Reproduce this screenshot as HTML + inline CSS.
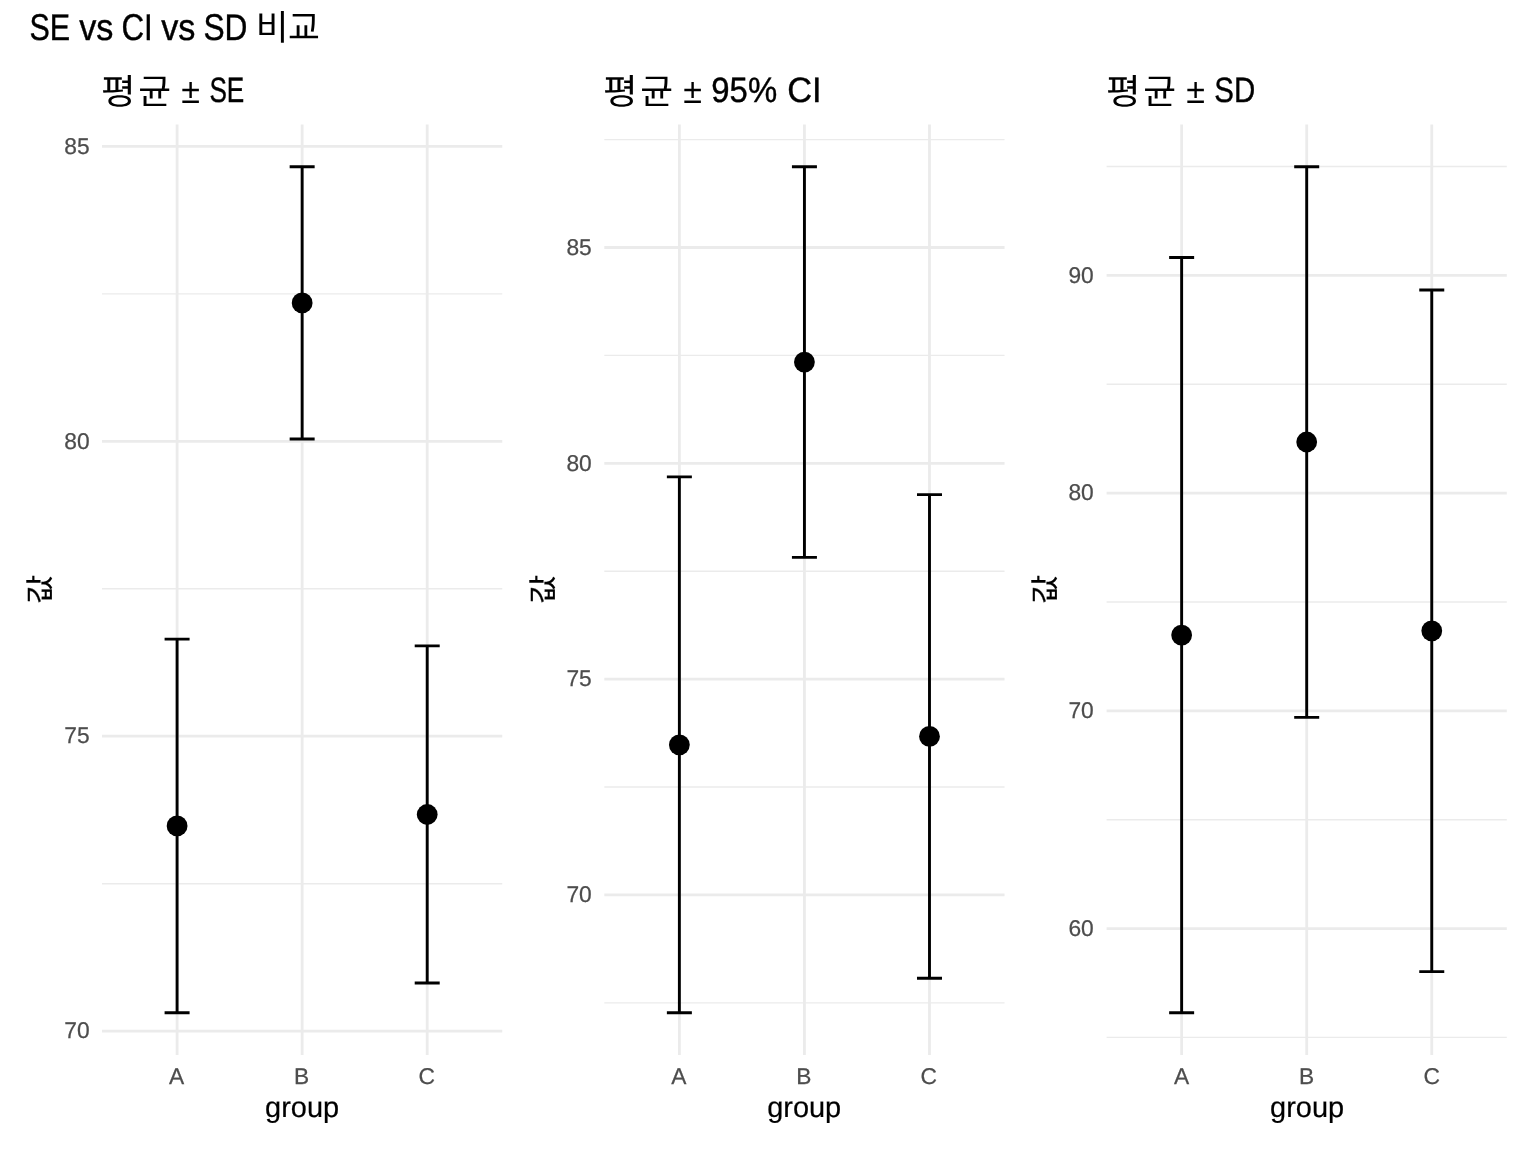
<!DOCTYPE html>
<html lang="ko">
<head>
<meta charset="utf-8">
<title>SE vs CI vs SD 비교</title>
<style>
html,body{margin:0;padding:0;background:#fff;}
body{width:1536px;height:1152px;overflow:hidden;}
svg{display:block;}
text{font-family:"Liberation Sans", "Noto Sans CJK KR", sans-serif;text-rendering:geometricPrecision;}
.t{font-size:35.2px;fill:#000;}
.l{font-size:37.2px;stroke:#000;stroke-width:0.4px;}
.m{font-size:35.2px;stroke:#000;stroke-width:0.4px;}
.ax{font-size:22.75px;fill:#4D4D4D;stroke:#4D4D4D;stroke-width:0.25px;}
.al{font-size:28.95px;fill:#000;stroke:#000;stroke-width:0.2px;}
.g line{stroke:#EBEBEB;}
.e{stroke:#000;stroke-width:2.9;fill:none;}
</style>
</head>
<body>
<svg width="1536" height="1152" viewBox="0 0 1536 1152">
<rect x="0" y="0" width="1536" height="1152" fill="#fff"/>
<text class="t" y="39.75"><tspan class="l" x="29.50" textLength="40.63" lengthAdjust="spacingAndGlyphs">SE</tspan> <tspan class="l" x="79.18" textLength="34.20" lengthAdjust="spacingAndGlyphs">vs</tspan> <tspan class="l" x="121.48" textLength="31.31" lengthAdjust="spacingAndGlyphs">CI</tspan> <tspan class="l" x="161.13" textLength="34.25" lengthAdjust="spacingAndGlyphs">vs</tspan> <tspan class="l" x="203.39" textLength="44.04" lengthAdjust="spacingAndGlyphs">SD</tspan> <tspan x="255.81" textLength="32.74" lengthAdjust="spacingAndGlyphs">비</tspan><tspan x="288.06" textLength="31.90" lengthAdjust="spacingAndGlyphs">교</tspan></text>
<g>
<text class="t"><tspan x="101.02" y="103.6" textLength="34.61" lengthAdjust="spacingAndGlyphs">평</tspan><tspan x="138.21" y="103.6" textLength="32.79" lengthAdjust="spacingAndGlyphs">균</tspan> <tspan x="181.21" y="102.9" textLength="18.70" lengthAdjust="spacingAndGlyphs">±</tspan> <tspan class="m" x="209.42" y="102.2" textLength="34.90" lengthAdjust="spacingAndGlyphs">SE</tspan></text>
<g class="g">
<line x1="102.05" x2="502.25" y1="293.84" y2="293.84" stroke-width="1.4"/>
<line x1="102.05" x2="502.25" y1="588.76" y2="588.76" stroke-width="1.4"/>
<line x1="102.05" x2="502.25" y1="883.68" y2="883.68" stroke-width="1.4"/>
<line x1="102.05" x2="502.25" y1="146.39" y2="146.39" stroke-width="2.8"/>
<line x1="102.05" x2="502.25" y1="441.30" y2="441.30" stroke-width="2.8"/>
<line x1="102.05" x2="502.25" y1="736.22" y2="736.22" stroke-width="2.8"/>
<line x1="102.05" x2="502.25" y1="1031.14" y2="1031.14" stroke-width="2.8"/>
<line x1="177.09" x2="177.09" y1="124.40" y2="1055.00" stroke-width="2.8"/>
<line x1="302.15" x2="302.15" y1="124.40" y2="1055.00" stroke-width="2.8"/>
<line x1="427.21" x2="427.21" y1="124.40" y2="1055.00" stroke-width="2.8"/>
</g>
<path class="e" d="M164.59 639.12H189.59M177.09 639.12V1012.70M164.59 1012.70H189.59"/>
<circle cx="177.09" cy="825.91" r="10.4"/>
<path class="e" d="M289.65 166.70H314.65M302.15 166.70V439.06M289.65 439.06H314.65"/>
<circle cx="302.15" cy="302.88" r="10.4"/>
<path class="e" d="M414.71 645.92H439.71M427.21 645.92V983.07M414.71 983.07H439.71"/>
<circle cx="427.21" cy="814.49" r="10.4"/>
<text class="ax" text-anchor="end" x="89.60" y="153.64">85</text>
<text class="ax" text-anchor="end" x="89.60" y="448.55">80</text>
<text class="ax" text-anchor="end" x="89.60" y="743.47">75</text>
<text class="ax" text-anchor="end" x="89.60" y="1038.39">70</text>
<text class="ax" text-anchor="middle" x="176.70" y="1083.7">A</text>
<text class="ax" text-anchor="middle" x="301.70" y="1083.7">B</text>
<text class="ax" text-anchor="middle" x="426.70" y="1083.7">C</text>
<text class="al" text-anchor="middle" x="302.10" y="1116.5">group</text>
<text class="al" transform="translate(49.70 603.99) rotate(-90) scale(1.0975 0.9876)">값</text>
</g>
<g>
<text class="t"><tspan x="603.12" y="103.6" textLength="34.61" lengthAdjust="spacingAndGlyphs">평</tspan><tspan x="640.31" y="103.6" textLength="32.79" lengthAdjust="spacingAndGlyphs">균</tspan> <tspan x="683.31" y="102.9" textLength="18.70" lengthAdjust="spacingAndGlyphs">±</tspan> <tspan class="m" x="711.32" y="102.2" textLength="65.85" lengthAdjust="spacingAndGlyphs">95%</tspan> <tspan class="m" x="787.29" y="102.2" textLength="34.37" lengthAdjust="spacingAndGlyphs">CI</tspan></text>
<g class="g">
<line x1="604.33" x2="1004.53" y1="139.59" y2="139.59" stroke-width="1.4"/>
<line x1="604.33" x2="1004.53" y1="355.42" y2="355.42" stroke-width="1.4"/>
<line x1="604.33" x2="1004.53" y1="571.24" y2="571.24" stroke-width="1.4"/>
<line x1="604.33" x2="1004.53" y1="787.06" y2="787.06" stroke-width="1.4"/>
<line x1="604.33" x2="1004.53" y1="1002.88" y2="1002.88" stroke-width="1.4"/>
<line x1="604.33" x2="1004.53" y1="247.51" y2="247.51" stroke-width="2.8"/>
<line x1="604.33" x2="1004.53" y1="463.33" y2="463.33" stroke-width="2.8"/>
<line x1="604.33" x2="1004.53" y1="679.15" y2="679.15" stroke-width="2.8"/>
<line x1="604.33" x2="1004.53" y1="894.97" y2="894.97" stroke-width="2.8"/>
<line x1="679.37" x2="679.37" y1="124.40" y2="1055.00" stroke-width="2.8"/>
<line x1="804.43" x2="804.43" y1="124.40" y2="1055.00" stroke-width="2.8"/>
<line x1="929.49" x2="929.49" y1="124.40" y2="1055.00" stroke-width="2.8"/>
</g>
<path class="e" d="M666.87 476.87H691.87M679.37 476.87V1012.70M666.87 1012.70H691.87"/>
<circle cx="679.37" cy="744.78" r="10.4"/>
<path class="e" d="M791.93 166.70H816.93M804.43 166.70V557.36M791.93 557.36H816.93"/>
<circle cx="804.43" cy="362.03" r="10.4"/>
<path class="e" d="M916.99 494.63H941.99M929.49 494.63V978.22M916.99 978.22H941.99"/>
<circle cx="929.49" cy="736.43" r="10.4"/>
<text class="ax" text-anchor="end" x="591.75" y="254.76">85</text>
<text class="ax" text-anchor="end" x="591.75" y="470.58">80</text>
<text class="ax" text-anchor="end" x="591.75" y="686.40">75</text>
<text class="ax" text-anchor="end" x="591.75" y="902.22">70</text>
<text class="ax" text-anchor="middle" x="678.80" y="1083.7">A</text>
<text class="ax" text-anchor="middle" x="803.80" y="1083.7">B</text>
<text class="ax" text-anchor="middle" x="928.80" y="1083.7">C</text>
<text class="al" text-anchor="middle" x="804.20" y="1116.5">group</text>
<text class="al" transform="translate(552.75 603.99) rotate(-90) scale(1.0975 0.9876)">값</text>
</g>
<g>
<text class="t"><tspan x="1106.02" y="103.6" textLength="34.61" lengthAdjust="spacingAndGlyphs">평</tspan><tspan x="1143.21" y="103.6" textLength="32.79" lengthAdjust="spacingAndGlyphs">균</tspan> <tspan x="1186.21" y="102.9" textLength="18.70" lengthAdjust="spacingAndGlyphs">±</tspan> <tspan class="m" x="1214.24" y="102.2" textLength="40.94" lengthAdjust="spacingAndGlyphs">SD</tspan></text>
<g class="g">
<line x1="1106.60" x2="1506.80" y1="166.54" y2="166.54" stroke-width="1.4"/>
<line x1="1106.60" x2="1506.80" y1="384.25" y2="384.25" stroke-width="1.4"/>
<line x1="1106.60" x2="1506.80" y1="601.97" y2="601.97" stroke-width="1.4"/>
<line x1="1106.60" x2="1506.80" y1="819.68" y2="819.68" stroke-width="1.4"/>
<line x1="1106.60" x2="1506.80" y1="1037.39" y2="1037.39" stroke-width="1.4"/>
<line x1="1106.60" x2="1506.80" y1="275.40" y2="275.40" stroke-width="2.8"/>
<line x1="1106.60" x2="1506.80" y1="493.11" y2="493.11" stroke-width="2.8"/>
<line x1="1106.60" x2="1506.80" y1="710.82" y2="710.82" stroke-width="2.8"/>
<line x1="1106.60" x2="1506.80" y1="928.53" y2="928.53" stroke-width="2.8"/>
<line x1="1181.64" x2="1181.64" y1="124.40" y2="1055.00" stroke-width="2.8"/>
<line x1="1306.70" x2="1306.70" y1="124.40" y2="1055.00" stroke-width="2.8"/>
<line x1="1431.76" x2="1431.76" y1="124.40" y2="1055.00" stroke-width="2.8"/>
</g>
<path class="e" d="M1169.14 257.44H1194.14M1181.64 257.44V1012.70M1169.14 1012.70H1194.14"/>
<circle cx="1181.64" cy="635.07" r="10.4"/>
<path class="e" d="M1294.20 166.70H1319.20M1306.70 166.70V717.33M1294.20 717.33H1319.20"/>
<circle cx="1306.70" cy="442.02" r="10.4"/>
<path class="e" d="M1419.26 290.05H1444.26M1431.76 290.05V971.66M1419.26 971.66H1444.26"/>
<circle cx="1431.76" cy="630.86" r="10.4"/>
<text class="ax" text-anchor="end" x="1093.70" y="282.65">90</text>
<text class="ax" text-anchor="end" x="1093.70" y="500.36">80</text>
<text class="ax" text-anchor="end" x="1093.70" y="718.07">70</text>
<text class="ax" text-anchor="end" x="1093.70" y="935.78">60</text>
<text class="ax" text-anchor="middle" x="1181.70" y="1083.7">A</text>
<text class="ax" text-anchor="middle" x="1306.70" y="1083.7">B</text>
<text class="ax" text-anchor="middle" x="1431.70" y="1083.7">C</text>
<text class="al" text-anchor="middle" x="1307.10" y="1116.5">group</text>
<text class="al" transform="translate(1054.75 603.99) rotate(-90) scale(1.0975 0.9876)">값</text>
</g>
</svg>
</body>
</html>
